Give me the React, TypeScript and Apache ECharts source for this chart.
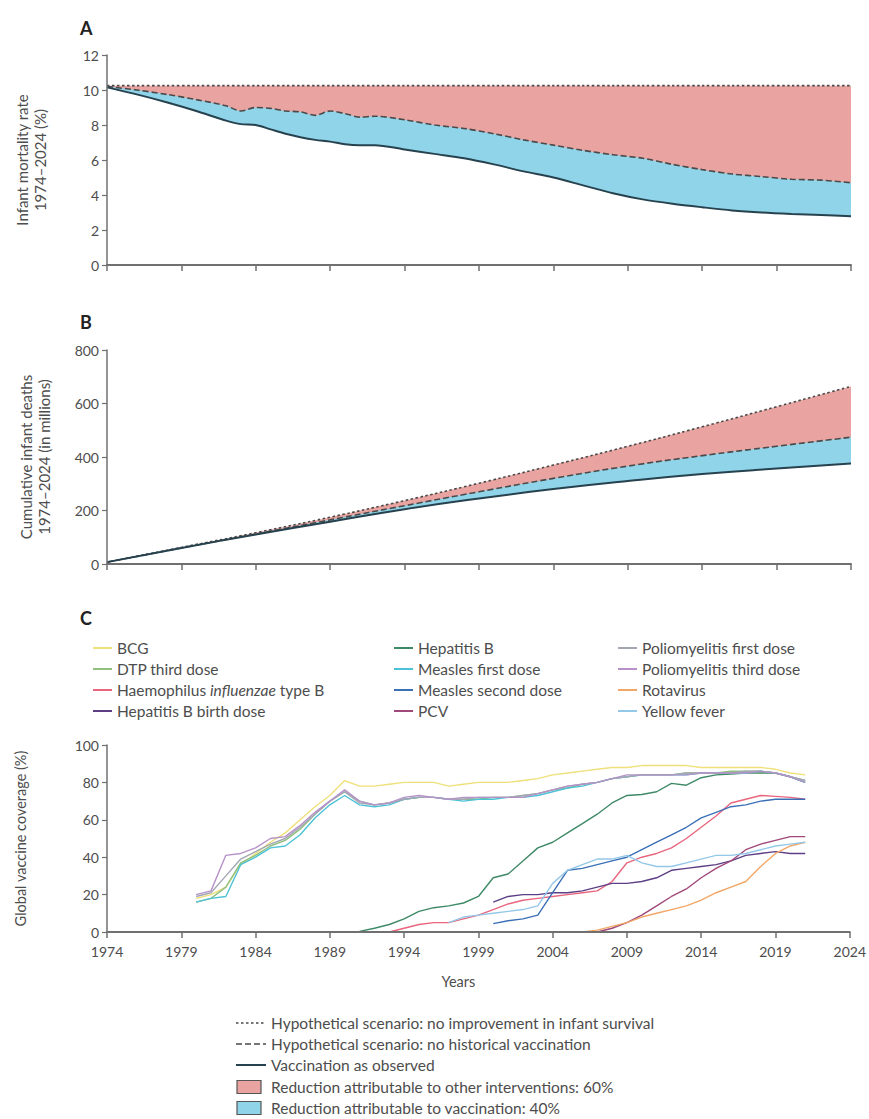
import React, { useEffect, useRef } from 'react';
import * as echarts from 'echarts';

// ---------- Panel A: infant mortality rate (%) ----------
const YEARS_A = [1974, 1976, 1978, 1980, 1982, 1983, 1984, 1985, 1986, 1987, 1988, 1989, 1990, 1991, 1992, 1994, 1996, 1998, 2000, 2002, 2004, 2006, 2008, 2010, 2012, 2014, 2016, 2018, 2020, 2022, 2024];
const A_NO_IMPROVEMENT = [10.25, 10.25, 10.25, 10.25, 10.25, 10.25, 10.25, 10.25, 10.25, 10.25, 10.25, 10.25, 10.25, 10.25, 10.25, 10.25, 10.25, 10.25, 10.25, 10.25, 10.25, 10.25, 10.25, 10.25, 10.25, 10.25, 10.25, 10.25, 10.25, 10.25, 10.25];
const A_NO_VACCINATION = [10.2, 10.0, 9.75, 9.45, 9.1, 8.8, 9.0, 8.95, 8.8, 8.75, 8.55, 8.8, 8.65, 8.45, 8.5, 8.3, 8.0, 7.8, 7.5, 7.15, 6.85, 6.55, 6.3, 6.1, 5.75, 5.45, 5.2, 5.05, 4.9, 4.85, 4.7];
const A_OBSERVED = [10.15, 9.75, 9.3, 8.8, 8.25, 8.05, 8.0, 7.75, 7.5, 7.3, 7.15, 7.05, 6.9, 6.85, 6.85, 6.6, 6.35, 6.1, 5.75, 5.35, 5.0, 4.55, 4.1, 3.75, 3.5, 3.3, 3.12, 3.0, 2.92, 2.86, 2.78];

// ---------- Panel B: cumulative infant deaths (millions) ----------
const YEARS_B = [1974, 1979, 1984, 1989, 1994, 1999, 2004, 2009, 2014, 2019, 2024];
const B_NO_IMPROVEMENT = [7, 62, 117, 175, 237, 302, 370, 440, 513, 588, 664];
const B_NO_VACCINATION = [7, 60, 112, 165, 218, 270, 320, 366, 405, 440, 474];
const B_OBSERVED = [7, 60, 110, 158, 205, 245, 280, 310, 336, 357, 376];

// ---------- Panel C: global vaccine coverage (%) ----------
const BCG_START = 1980;
const BCG = [18, 20, 24, 36, 42, 48, 53, 60, 67, 73, 81, 78, 78, 79, 80, 80, 80, 78, 79, 80, 80, 80, 81, 82, 84, 85, 86, 87, 88, 88, 89, 89, 89, 89, 88, 88, 88, 88, 88, 87, 85, 84];
const DTP3_START = 1980;
const DTP3 = [16, 18, 24, 37, 41, 46, 49, 55, 63, 70, 75, 70, 68, 69, 71, 72, 72, 71, 71, 71, 72, 72, 73, 74, 76, 77, 79, 80, 82, 83, 84, 84, 84, 85, 85, 85, 86, 86, 86, 85, 83, 81];
const HIB_START = 1993;
const HIB = [0, 2, 4, 5, 5, 7, 9, 12, 15, 17, 18, 19, 20, 21, 22, 27, 37, 40, 42, 45, 50, 56, 62, 69, 71, 73, 72.5, 72, 71];
const HEPB_BD_START = 2000;
const HEPB_BD = [16, 19, 20, 20, 21, 21, 22, 24, 26, 26, 27, 29, 33, 34, 35, 36, 38, 41, 42, 43, 42, 42];
const HEPB_START = 1990;
const HEPB = [0, 0.3, 2, 4, 7, 11, 13, 14, 15.5, 19, 29, 31, 38, 45, 48, 53, 58, 63, 69, 73, 73.5, 75, 79.5, 78.5, 82.5, 84, 84.5, 85, 85, 85, 83, 80];
const MCV1_START = 1980;
const MCV1 = [16, 18, 19, 36, 40, 45, 46, 52, 61, 68, 73, 68, 67, 68, 71, 72, 72, 71, 70, 71, 71, 72, 72, 73, 75, 77, 78, 80, 82, 83, 84, 84, 84, 84, 85, 85, 85, 85, 86, 85, 83, 80];
const MCV2_START = 2000;
const MCV2 = [4.5, 6, 7, 9, 21, 33, 34, 36, 38, 40, 44, 48, 52, 56, 61, 64, 67, 68, 70, 71, 71, 71];
const PCV_START = 2007;
const PCV = [0, 2, 5, 9, 14, 19, 23, 29, 34, 38, 44, 47, 49, 51, 51];
const POL1_START = 1980;
const POL1 = [19, 21, 30, 39, 43, 47, 50, 56, 63, 70, 75, 69, 68, 69, 71, 72, 72, 71, 71, 72, 72, 72, 73, 74, 76, 78, 79, 80, 82, 83, 84, 84, 84, 85, 85, 85, 85, 86, 86, 85, 83, 81];
const POL3_START = 1980;
const POL3 = [20, 22, 41, 42, 45, 50, 51, 57, 64, 70, 76, 70, 68, 69, 72, 73, 72, 71, 72, 72, 72, 72, 72, 74, 76, 78, 79, 80, 82, 84, 84, 84, 84, 84, 85, 85, 85, 85, 86, 85, 83, 80];
const ROTA_START = 2006;
const ROTA = [0, 1, 3, 5, 8, 10, 12, 14, 17, 21, 24, 27, 35, 42, 46, 48];
const YF_START = 1997;
const YF = [5, 8, 9, 10, 11, 12, 14, 26, 33, 36, 39, 39, 41, 37, 35, 35, 37, 39, 41, 41, 42, 44, 46, 47, 48];

const VACCINES = [
  { name: 'BCG', start: BCG_START, values: BCG, color: '#efe07a' },
  { name: 'DTP third dose', start: DTP3_START, values: DTP3, color: '#8fc07e' },
  { name: 'Haemophilus influenzae type B', start: HIB_START, values: HIB, color: '#e8667e' },
  { name: 'Hepatitis B birth dose', start: HEPB_BD_START, values: HEPB_BD, color: '#5e3f86' },
  { name: 'Hepatitis B', start: HEPB_START, values: HEPB, color: '#3f8a66' },
  { name: 'Measles first dose', start: MCV1_START, values: MCV1, color: '#4cc2d6' },
  { name: 'Measles second dose', start: MCV2_START, values: MCV2, color: '#3b6fb6' },
  { name: 'PCV', start: PCV_START, values: PCV, color: '#a0487a' },
  { name: 'Poliomyelitis first dose', start: POL1_START, values: POL1, color: '#a3a7b3' },
  { name: 'Poliomyelitis third dose', start: POL3_START, values: POL3, color: '#b692c8' },
  { name: 'Rotavirus', start: ROTA_START, values: ROTA, color: '#f2a766' },
  { name: 'Yellow fever', start: YF_START, values: YF, color: '#94c8e8' },
];

const LEGEND_COLUMNS = [
  ['BCG', 'DTP third dose', 'Haemophilus influenzae type B', 'Hepatitis B birth dose'],
  ['Hepatitis B', 'Measles first dose', 'Measles second dose', 'PCV'],
  ['Poliomyelitis first dose', 'Poliomyelitis third dose', 'Rotavirus', 'Yellow fever'],
];

const X_TICKS_BASE = 1974;

const BOTTOM_LEGEND = [
  'Hypothetical scenario: no improvement in infant survival',
  'Hypothetical scenario: no historical vaccination',
  'Vaccination as observed',
  'Reduction attributable to other interventions: 60%',
  'Reduction attributable to vaccination: 40%',
];

const FONT = "Lato, 'Noto Sans', 'DejaVu Sans', sans-serif";
const AXIS_COLOR = '#707070';
const TEXT_COLOR = '#4d4d4d';
const RED_FILL = '#e9a3a0';
const BLUE_FILL = '#8fd4e8';
const DARK_LINE = '#27424f';
const DASH_LINE = '#4a4a4a';

function toPts(years: number[], vals: number[]) {
  return years.map((y, i) => [y - X_TICKS_BASE, vals[i]]);
}

function xAxis(gridIndex: number, labels: boolean, name?: string) {
  return {
    type: 'value',
    gridIndex,
    min: 0,
    max: 50,
    interval: 5,
    z: 10,
    name: name || '',
    nameLocation: 'middle',
    nameGap: 42,
    nameTextStyle: { fontSize: 14.5, color: TEXT_COLOR, fontFamily: FONT, padding: [0, 40, 0, 0] },
    axisLine: { show: true, onZero: false, lineStyle: { color: AXIS_COLOR, width: 2 } },
    axisTick: { show: true, length: 6, lineStyle: { color: AXIS_COLOR, width: 1.5 } },
    axisLabel: {
      show: labels,
      margin: 12,
      fontSize: 14,
      color: TEXT_COLOR,
      fontFamily: FONT,
      formatter: (v: number) => String(v + X_TICKS_BASE),
    },
    splitLine: { show: false },
  };
}

function yAxis(gridIndex: number, max: number, interval: number, name: string, nameGap: number, nameSize: number) {
  return {
    type: 'value',
    gridIndex,
    min: 0,
    max,
    interval,
    z: 10,
    name,
    nameLocation: 'middle',
    nameGap,
    nameTextStyle: { fontSize: nameSize, color: TEXT_COLOR, fontFamily: FONT, lineHeight: 18 },
    axisLine: { show: true, lineStyle: { color: AXIS_COLOR, width: 1.5 } },
    axisTick: { show: true, length: 5, lineStyle: { color: AXIS_COLOR, width: 1.2 } },
    axisLabel: { margin: 8, fontSize: 14, color: TEXT_COLOR, fontFamily: FONT },
    splitLine: { show: false },
  };
}

// Bands are painted by layering areas filled down to zero:
// red under the "no improvement" line, blue under "no vaccination", white under "observed".
function panelSeries(
  idx: number,
  years: number[],
  noImp: number[],
  noVac: number[],
  obs: number[],
  smooth: number,
) {
  const common = {
    type: 'line',
    xAxisIndex: idx,
    yAxisIndex: idx,
    symbol: 'none',
    showSymbol: false,
    smooth,
    silent: true,
  };
  return [
    {
      ...common,
      name: 'fillOther' + idx,
      data: toPts(years, noImp),
      lineStyle: { width: 0, opacity: 0 },
      areaStyle: { color: RED_FILL, opacity: 1, origin: 'start' },
      z: 1,
    },
    {
      ...common,
      name: 'fillVacc' + idx,
      data: toPts(years, noVac),
      lineStyle: { width: 0, opacity: 0 },
      areaStyle: { color: BLUE_FILL, opacity: 1, origin: 'start' },
      z: 2,
    },
    {
      ...common,
      name: 'fillBase' + idx,
      data: toPts(years, obs),
      lineStyle: { width: 0, opacity: 0 },
      areaStyle: { color: '#ffffff', opacity: 1, origin: 'start' },
      z: 3,
    },
    {
      ...common,
      name: 'noimp' + idx,
      data: toPts(years, noImp),
      lineStyle: { color: DASH_LINE, width: 1.6, type: [2.5, 2.5] },
      z: 4,
    },
    {
      ...common,
      name: 'novac' + idx,
      data: toPts(years, noVac),
      lineStyle: { color: DASH_LINE, width: 1.6, type: [6, 3] },
      z: 4,
    },
    {
      ...common,
      name: 'obs' + idx,
      data: toPts(years, obs),
      lineStyle: { color: DARK_LINE, width: 2 },
      z: 5,
    },
  ];
}

function buildOption() {
  const vaccineSeries = VACCINES.map((v) => ({
    type: 'line',
    name: v.name,
    xAxisIndex: 2,
    yAxisIndex: 2,
    symbol: 'none',
    showSymbol: false,
    color: v.color,
    lineStyle: { color: v.color, width: 1.4 },
    data: v.values.map((val, i) => [v.start + i - X_TICKS_BASE, val]),
  }));

  const legendLefts = [88, 389, 613];
  const legends = LEGEND_COLUMNS.map((col, ci) => ({
    orient: 'vertical',
    left: legendLefts[ci],
    top: 635,
    data: col,
    icon: 'rect',
    itemWidth: 19,
    itemHeight: 2,
    itemGap: 5,
    selectedMode: false,
    formatter: (name: string) =>
      name === 'Haemophilus influenzae type B'
        ? '{n|Haemophilus }{i|influenzae}{n| type B}'
        : '{n|' + name + '}',
    textStyle: {
      fontFamily: FONT,
      fontSize: 15.5,
      color: TEXT_COLOR,
      rich: {
        n: { fontFamily: FONT, fontSize: 15.5, color: TEXT_COLOR, lineHeight: 15 },
        i: { fontFamily: FONT, fontSize: 15.5, color: TEXT_COLOR, fontStyle: 'italic', lineHeight: 15 },
      },
    },
  }));

  const rowY = [1023, 1044, 1065, 1087, 1108];
  const legendGraphics: any[] = [
    { type: 'line', shape: { x1: 236, y1: rowY[0], x2: 266, y2: rowY[0] }, style: { stroke: DASH_LINE, lineWidth: 1.5, lineDash: [2.5, 2.5] } },
    { type: 'line', shape: { x1: 236, y1: rowY[1], x2: 266, y2: rowY[1] }, style: { stroke: DASH_LINE, lineWidth: 1.5, lineDash: [6, 3] } },
    { type: 'line', shape: { x1: 236, y1: rowY[2], x2: 266, y2: rowY[2] }, style: { stroke: DARK_LINE, lineWidth: 2 } },
    { type: 'rect', shape: { x: 237, y: rowY[3] - 6.5, width: 24, height: 13 }, style: { fill: RED_FILL, stroke: '#555', lineWidth: 1.2 } },
    { type: 'rect', shape: { x: 237, y: rowY[4] - 6.5, width: 24, height: 13 }, style: { fill: BLUE_FILL, stroke: '#555', lineWidth: 1.2 } },
  ];
  BOTTOM_LEGEND.forEach((t, i) => {
    legendGraphics.push({
      type: 'text',
      x: 271,
      y: rowY[i],
      style: { text: t, fontFamily: FONT, fontSize: 15.5, fill: TEXT_COLOR, textVerticalAlign: 'middle', textAlign: 'left' },
    });
  });

  const letters = [
    { t: 'A', y: 28 },
    { t: 'B', y: 322 },
    { t: 'C', y: 618 },
  ].map((l) => ({
    type: 'text',
    x: 80,
    y: l.y,
    style: { text: l.t, fontFamily: FONT, fontSize: 18, fontWeight: 'bold', fill: '#222', textVerticalAlign: 'middle' },
  }));

  return {
    animation: false,
    backgroundColor: '#ffffff',
    textStyle: { fontFamily: FONT },
    grid: [
      { left: 107, width: 744, top: 55, height: 210 },
      { left: 107, width: 744, top: 350, height: 214 },
      { left: 107, width: 744, top: 745, height: 187 },
    ],
    xAxis: [xAxis(0, false), xAxis(1, false), xAxis(2, true, 'Years')],
    yAxis: [
      yAxis(0, 12, 2, 'Infant mortality rate\n1974–2024 (%)', 58, 15),
      yAxis(1, 800, 200, 'Cumulative infant deaths\n1974–2024 (in millions)', 54, 15),
      yAxis(2, 100, 20, 'Global vaccine coverage (%)', 78, 14.5),
    ],
    legend: legends,
    series: [
      ...panelSeries(0, YEARS_A, A_NO_IMPROVEMENT, A_NO_VACCINATION, A_OBSERVED, 0.3),
      ...panelSeries(1, YEARS_B, B_NO_IMPROVEMENT, B_NO_VACCINATION, B_OBSERVED, 0.5),
      ...vaccineSeries,
    ],
    graphic: [...letters, ...legendGraphics],
  };
}

export default function App() {
  const ref = useRef<HTMLDivElement>(null);
  useEffect(() => {
    document.body.style.margin = '0';
    const chart = echarts.init(ref.current as HTMLDivElement, null, { renderer: 'svg' });
    chart.setOption(buildOption() as any);
    return () => chart.dispose();
  }, []);
  return <div ref={ref} style={{ width: 869, height: 1119 }} />;
}
